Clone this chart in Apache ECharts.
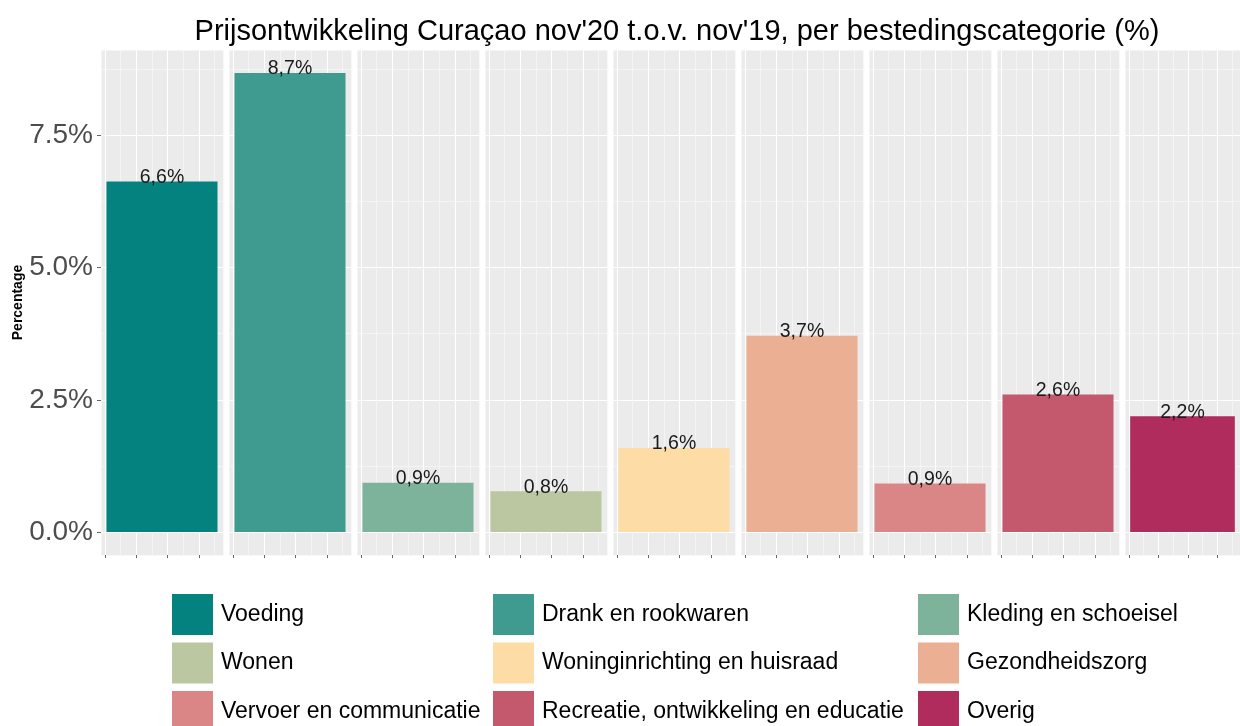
<!DOCTYPE html>
<html>
<head>
<meta charset="utf-8">
<script src="https://cdn.jsdelivr.net/npm/echarts@6/dist/echarts.min.js"></script>
<style>
html,body{margin:0;padding:0;background:#fff;}
#chart{width:1240px;height:726px;}
</style>
</head>
<body>
<div id="chart"></div>
<script>
// ---- data ----
const titleText = "Prijsontwikkeling Curaçao nov'20 t.o.v. nov'19, per bestedingscategorie (%)";
const categories = ['Voeding','Drank en rookwaren','Kleding en schoeisel','Wonen','Woninginrichting en huisraad','Gezondheidszorg','Vervoer en communicatie','Recreatie, ontwikkeling en educatie','Overig'];
const values = [6.63, 8.68, 0.93, 0.77, 1.59, 3.71, 0.92, 2.60, 2.19];
const colors = ['#038280','#3F9B8F','#7DB39A','#BBC7A1','#FDDCA6','#EBAF94','#DA8586','#C4596E','#AF2C5C'];
const yTicks = [0, 2.5, 5, 7.5];
const yTickStep = 2.5;
const yTitle = 'Percentage';

// ---- layout ----
const yMin = -0.434, yMax = 9.114;
const panelLeft0 = 101, panelStep = 128, panelW = 122, panelTop = 50, panelH = 505;
const xMin = -0.128, xMax = 3.77; // unit scale for vertical gridlines inside each panel
const xTickUnits = [0, 1, 2, 3];

const grids = [], xAxes = [], yAxes = [], series = [];
categories.forEach((cat, i) => {
  grids.push({left: panelLeft0 + i*panelStep, top: panelTop, width: panelW, height: panelH,
    show: true, backgroundColor: '#EBEBEB', borderWidth: 0, containLabel: false});
  // category axis for the bar
  xAxes.push({type: 'category', gridIndex: i, data: [cat], show: true, position: 'bottom',
    axisLine: {show: false, onZero: false}, axisTick: {show: false}, axisLabel: {show: false}, splitLine: {show: false}, z: 1});
  // major vertical grid lines + ticks
  xAxes.push({type: 'value', gridIndex: i, min: xMin, max: xMax, minInterval: 1, maxInterval: 1, position: 'bottom',
    axisLine: {show: false, onZero: false}, axisLabel: {show: false},
    axisTick: {show: true, length: 3, customValues: xTickUnits, lineStyle: {color: '#666', width: 1}},
    splitLine: {show: true, lineStyle: {color: '#FFFFFF', width: 1.1}}, z: 0});
  // minor vertical grid lines
  xAxes.push({type: 'value', gridIndex: i, min: xMin - 0.5, max: xMax - 0.5, minInterval: 1, maxInterval: 1, position: 'bottom',
    axisLine: {show: false, onZero: false}, axisLabel: {show: false}, axisTick: {show: false},
    splitLine: {show: true, lineStyle: {color: '#F6F6F6', width: 0.8}}, z: 0});
  // major horizontal grid lines (+ labels in first panel)
  yAxes.push({type: 'value', gridIndex: i, min: yMin, max: yMax, minInterval: yTickStep, maxInterval: yTickStep, position: 'left',
    name: i === 0 ? yTitle : '', nameLocation: 'middle', nameGap: 74,
    nameTextStyle: {fontFamily: 'Liberation Sans', fontWeight: 'bold', fontSize: 14, color: '#000'},
    axisLine: {show: false, onZero: false},
    axisTick: {show: i === 0, length: 4, customValues: yTicks, lineStyle: {color: '#666'}},
    axisLabel: {show: i === 0, margin: 8, customValues: yTicks,
      fontFamily: 'Liberation Sans', fontSize: 28, color: '#4D4D4D',
      formatter: v => v.toFixed(1) + '%'},
    splitLine: {show: true, lineStyle: {color: '#FFFFFF', width: 1.2}}, z: 0});
  // minor horizontal grid lines
  yAxes.push({type: 'value', gridIndex: i, min: yMin - yTickStep/2, max: yMax - yTickStep/2, position: 'left',
    minInterval: yTickStep, maxInterval: yTickStep,
    axisLine: {show: false, onZero: false}, axisTick: {show: false}, axisLabel: {show: false},
    splitLine: {show: true, lineStyle: {color: '#F6F6F6', width: 0.8}}, z: 0});

  series.push({
    name: cat, type: 'bar', xAxisIndex: i*3, yAxisIndex: i*2,
    data: [values[i]], barWidth: '91%',
    itemStyle: {color: colors[i]},
    label: {show: true, position: 'top', distance: -6,
      fontFamily: 'Liberation Sans', fontSize: 19.5, color: '#1A1A1A',
      formatter: p => p.value.toFixed(1).replace('.', ',') + '%'},
    animation: false, z: 3
  });
});

const legendCol = (names, left) => ({
  orient: 'vertical', left: left, top: 594, height: 200, padding: 0,
  itemWidth: 41, itemHeight: 41, itemGap: 7.5,
  icon: 'rect', data: names, selectedMode: false,
  textStyle: {fontFamily: 'Liberation Sans', fontSize: 23, color: '#000', padding: [0,0,0,3]}
});

const option = {
  animation: false,
  title: {text: titleText, left: 672, top: 12, textAlign: 'center',
    textStyle: {fontFamily: 'Liberation Sans', fontWeight: 'normal', fontSize: 29, color: '#000'}},
  grid: grids, xAxis: xAxes, yAxis: yAxes, series: series,
  legend: [
    legendCol([categories[0], categories[3], categories[6]], 172),
    legendCol([categories[1], categories[4], categories[7]], 493),
    legendCol([categories[2], categories[5], categories[8]], 918)
  ]
};
const chart = echarts.init(document.getElementById('chart'), null, {renderer: 'canvas'});
chart.setOption(option);
</script>
</body>
</html>
